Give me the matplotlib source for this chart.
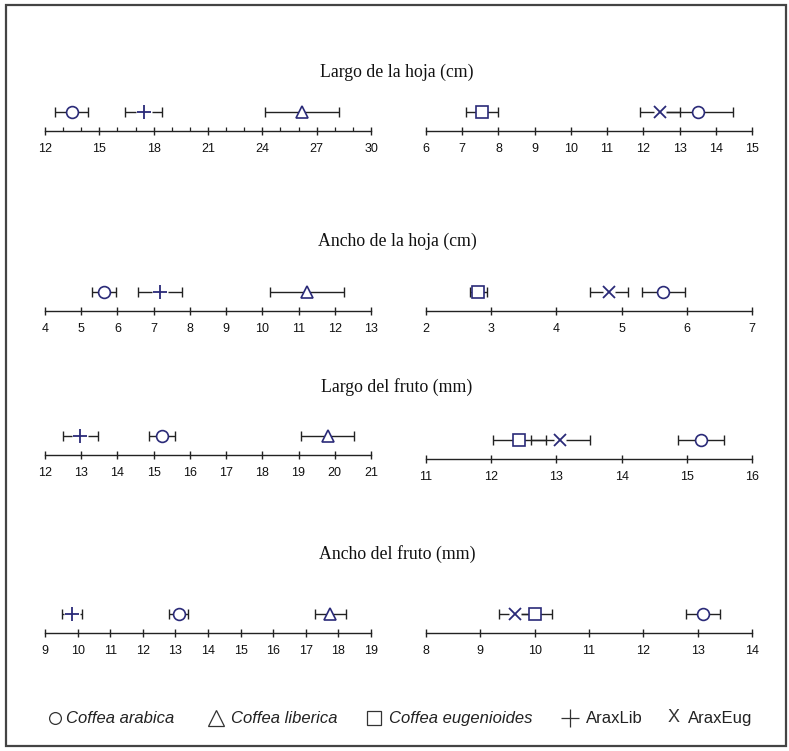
import matplotlib
matplotlib.use("Agg")
import matplotlib.pyplot as plt
from matplotlib.lines import Line2D
from matplotlib.patches import Rectangle
from matplotlib.ticker import MultipleLocator

# ---------------- data ----------------
titles = ["Largo de la hoja (cm)", "Ancho de la hoja (cm)",
          "Largo del fruto (mm)", "Ancho del fruto (mm)"]

hoja_largo_L_species = ["arabica", "AraxLib", "liberica"]
hoja_largo_L_mean = [13.47, 17.44, 26.19]
hoja_largo_L_err = [0.90, 1.04, 2.07]
hoja_largo_R_species = ["eugenioides", "AraxEug", "arabica"]
hoja_largo_R_mean = [7.55, 12.45, 13.50]
hoja_largo_R_err = [0.45, 0.55, 0.97]

hoja_ancho_L_species = ["arabica", "AraxLib", "liberica"]
hoja_ancho_L_mean = [5.63, 7.18, 11.23]
hoja_ancho_L_err = [0.33, 0.60, 1.03]
hoja_ancho_R_species = ["eugenioides", "AraxEug", "arabica"]
hoja_ancho_R_mean = [2.80, 4.81, 5.64]
hoja_ancho_R_err = [0.13, 0.29, 0.33]

fruto_largo_L_species = ["AraxLib", "arabica", "liberica"]
fruto_largo_L_mean = [12.98, 15.23, 19.80]
fruto_largo_L_err = [0.48, 0.37, 0.73]
fruto_largo_R_species = ["eugenioides", "AraxEug", "arabica"]
fruto_largo_R_mean = [12.43, 13.06, 15.22]
fruto_largo_R_err = [0.41, 0.45, 0.35]

fruto_ancho_L_species = ["AraxLib", "arabica", "liberica"]
fruto_ancho_L_mean = [9.83, 13.10, 17.75]
fruto_ancho_L_err = [0.30, 0.30, 0.47]
fruto_ancho_R_species = ["AraxEug", "eugenioides", "arabica"]
fruto_ancho_R_mean = [9.63, 10.00, 13.10]
fruto_ancho_R_err = [0.29, 0.31, 0.31]

ranges_L = [(12, 30, 3), (4, 13, 1), (12, 21, 1), (9, 19, 1)]
ranges_R = [(6, 15, 1), (2, 7, 1), (11, 16, 1), (8, 14, 1)]

legend_labels = ["Coffea arabica", "Coffea liberica", "Coffea eugenioides",
                 "AraxLib", "AraxEug"]

panels = [
    [(hoja_largo_L_species, hoja_largo_L_mean, hoja_largo_L_err),
     (hoja_largo_R_species, hoja_largo_R_mean, hoja_largo_R_err)],
    [(hoja_ancho_L_species, hoja_ancho_L_mean, hoja_ancho_L_err),
     (hoja_ancho_R_species, hoja_ancho_R_mean, hoja_ancho_R_err)],
    [(fruto_largo_L_species, fruto_largo_L_mean, fruto_largo_L_err),
     (fruto_largo_R_species, fruto_largo_R_mean, fruto_largo_R_err)],
    [(fruto_ancho_L_species, fruto_ancho_L_mean, fruto_ancho_L_err),
     (fruto_ancho_R_species, fruto_ancho_R_mean, fruto_ancho_R_err)],
]

# ---------------- style ----------------
W, H = 789, 751
fig = plt.figure(figsize=(W / 100, H / 100), dpi=100)
NAVY = "#2a2a78"
markers = {
    "arabica": dict(marker="o", ms=8.5),
    "liberica": dict(marker="^", ms=9),
    "eugenioides": dict(marker="s", ms=8),
    "AraxLib": dict(marker="+", ms=10),
    "AraxEug": dict(marker="x", ms=8),
}

SANS = ["Liberation Sans", "DejaVu Sans"]
SERIF = ["Liberation Serif", "DejaVu Serif"]

title_y = [72, 241, 387, 554]
axis_y_L = [131, 311, 455, 633]
axis_y_R = [131, 311, 459, 633]
LX = (45, 371)
RX = (426, 752)
AH = 40
MY = 19


def make_axes(x0, x1, ybase):
    return fig.add_axes([x0 / W, (H - ybase) / H, (x1 - x0) / W, AH / H])


def draw_panel(ax, data, rng, minor):
    species, mean, err = data
    lo, hi, step = rng
    ax.set_xlim(lo, hi)
    ax.set_ylim(0, AH)
    for s in ("left", "right", "top"):
        ax.spines[s].set_visible(False)
    ax.spines["bottom"].set_linewidth(1.0)
    ax.spines["bottom"].set_color("#222222")
    ax.set_yticks([])
    if minor:
        ax.xaxis.set_minor_locator(MultipleLocator(1))
        ax.tick_params(axis="x", which="minor", direction="in", length=3,
                       width=0.9, color="#222222")
    ax.tick_params(axis="x", which="major", direction="inout", length=6,
                   width=1.0, color="#222222", pad=5.5)
    ax.set_xticks(range(lo, hi + 1, step))
    ax.set_xticklabels([str(v) for v in range(lo, hi + 1, step)],
                       family=SANS, fontsize=9, color="#111111")
    ax.patch.set_alpha(0)
    for sp, m, e in zip(species, mean, err):
        ax.errorbar([m], [MY], xerr=[e], fmt="none", ecolor="#222222",
                    elinewidth=1.0, capsize=3.5, capthick=1.0, zorder=2)
        mk = markers[sp]
        if sp in ("AraxLib", "AraxEug"):
            ax.plot([m], [MY], marker="s", ms=mk["ms"] + 1, mfc="white",
                    mec="none", ls="none", zorder=3, clip_on=False)
            ax.plot([m], [MY], marker=mk["marker"], ms=mk["ms"], mec=NAVY,
                    mew=1.3, ls="none", zorder=4, clip_on=False)
        else:
            ax.plot([m], [MY], marker=mk["marker"], ms=mk["ms"], mfc="white",
                    mec=NAVY, mew=1.2, ls="none", zorder=4, clip_on=False)


for i in range(4):
    axL = make_axes(LX[0], LX[1], axis_y_L[i])
    draw_panel(axL, panels[i][0], ranges_L[i], minor=(i == 0))
    axR = make_axes(RX[0], RX[1], axis_y_R[i])
    draw_panel(axR, panels[i][1], ranges_R[i], minor=False)
    fig.text(397 / W, 1 - title_y[i] / H, titles[i], ha="center", va="center",
             family=SERIF, fontsize=12.8, color="#111111")

# legend (placed item by item)
LEG = "#333333"
LY = 718
leg_handles = [
    dict(marker="o", mfc="none", mec=LEG, mew=0.9, ms=8.5),
    dict(marker="^", mfc="none", mec=LEG, mew=0.9, ms=11),
    dict(marker="s", mfc="none", mec=LEG, mew=0.9, ms=9.5),
    dict(marker="+", mec=LEG, mew=0.9, ms=13),
    None,
]
sym_x = [55, 216, 374, 570, 674]
txt_x = [66, 231, 389, 586, 688]
for k in range(5):
    if leg_handles[k] is not None:
        fig.add_artist(Line2D([sym_x[k] / W], [1 - LY / H], ls="none",
                              transform=fig.transFigure, **leg_handles[k]))
    else:
        fig.text(sym_x[k] / W, 1 - LY / H, "X", ha="center", va="center",
                 family=SANS, fontsize=13, color=LEG)
    fig.text(txt_x[k] / W, 1 - (LY + 5) / H, legend_labels[k], ha="left",
             va="baseline", family=SANS, fontsize=12, color="#222222",
             fontstyle="italic" if k < 3 else "normal")

fig.patches.append(Rectangle((6 / W, 1 - 746 / H), 780 / W, 741 / H,
                             transform=fig.transFigure, fill=False,
                             edgecolor="#444444", lw=1.6))

fig.savefig("out.png", dpi=100)
